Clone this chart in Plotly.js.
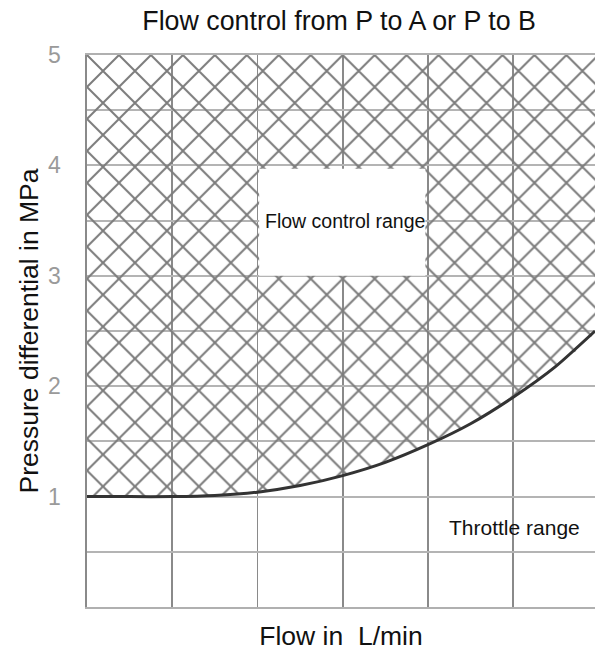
<!DOCTYPE html>
<html>
<head>
<meta charset="utf-8">
<script src="https://cdn.plot.ly/plotly-3.0.1.min.js"></script>
<style>html,body{margin:0;padding:0;background:#fff;}#chart{width:595px;height:655px;}</style>
</head>
<body>
<div id="chart"></div>
<script>
// Boundary curve between throttle range and flow control range
const flowLmin = [0, 0.5, 1, 1.5, 2, 2.5, 3, 3.5, 4, 4.5, 5, 5.5, 5.96];
const pressureMPa = [1, 1, 1, 1.01, 1.04, 1.1, 1.19, 1.31, 1.47, 1.66, 1.9, 2.18, 2.5];
const yTickVals = [0, 0.5, 1, 1.5, 2, 2.5, 3, 3.5, 4, 4.5, 5];
const yTickText = ['', '', '1', '', '2', '', '3', '', '4', '', '5'];
const xTickVals = [0, 1, 2, 3, 4, 5, 6];
const xMax = 5.96, yMax = 5;
// label box region (data units)
const labelBoxX = [2.02, 3.97];
const labelBoxY = [3.0, 3.97];

const font = 'Liberation Sans, Arial, sans-serif';

const hatchX = flowLmin.concat([xMax, 0]);
const hatchY = pressureMPa.concat([yMax, yMax]);

const traces = [
  {
    x: hatchX, y: hatchY, type: 'scatter', mode: 'lines',
    fill: 'toself', line: {width: 0, color: 'rgba(0,0,0,0)', shape: 'spline', smoothing: 0.6},
    fillcolor: 'rgba(0,0,0,0)',
    fillpattern: {shape: 'x', size: 22.6, solidity: 0.17, fgcolor: '#7c7c7c', bgcolor: 'rgba(0,0,0,0)'},
    hoverinfo: 'skip', showlegend: false
  },
  {
    x: flowLmin, y: pressureMPa, type: 'scatter', mode: 'lines',
    line: {color: '#333333', width: 3, shape: 'spline', smoothing: 0.6},
    showlegend: false
  }
];

const layout = {
  width: 595, height: 655,
  margin: {l: 87, r: 0, t: 55, b: 48},
  paper_bgcolor: '#fff', plot_bgcolor: '#fff',
  font: {family: font, color: '#000'},
  title: {text: 'Flow control from P to A or P to B', font: {size: 26.8, family: font, color: '#111'}, x: 0.57, xanchor: 'center', y: 0.969, yanchor: 'middle'},
  xaxis: {
    range: [0, xMax], tickmode: 'array', tickvals: xTickVals, showticklabels: false,
    showgrid: true, gridcolor: '#8a8a8a', gridwidth: 1.6, zeroline: false,
    showline: true, linecolor: '#b0b0b0', linewidth: 2, mirror: 'all', ticks: '',
    title: {text: 'Flow in\u00a0 L/min', font: {size: 26.5, family: font, color: '#111'}, standoff: 18},
    automargin: false
  },
  yaxis: {
    range: [0, yMax], tickmode: 'array', tickvals: yTickVals, ticktext: yTickText,
    showgrid: true, gridcolor: '#b4b4b4', gridwidth: 2, zeroline: false,
    showline: true, linecolor: '#8a8a8a', linewidth: 1.6, ticks: '',
    tickfont: {family: 'Liberation Sans Narrow, Arial Narrow, sans-serif', size: 23, color: '#9a9a9a'},
    ticklabelstandoff: 20,
    title: {text: 'Pressure differential in MPa', font: {size: 26.5, family: font, color: '#111'}, standoff: 2},
    automargin: false
  },
  shapes: [
    {type: 'rect', xref: 'x', yref: 'y', x0: labelBoxX[0], x1: labelBoxX[1], y0: labelBoxY[0], y1: labelBoxY[1],
     fillcolor: '#fff', line: {width: 0}, layer: 'above'}
  ],
  annotations: [
    {x: 2.07, y: 3.5, xref: 'x', yref: 'y', text: 'Flow control range', showarrow: false, xanchor: 'left', yanchor: 'middle',
     font: {size: 19.5, family: font, color: '#111'}},
    {x: 4.22, y: 0.72, xref: 'x', yref: 'y', text: 'Throttle range', showarrow: false, xanchor: 'left', yanchor: 'middle',
     font: {size: 21, family: font, color: '#111'}}
  ]
};

Plotly.newPlot('chart', traces, layout, {displayModeBar: false, staticPlot: true});
</script>
</body>
</html>
